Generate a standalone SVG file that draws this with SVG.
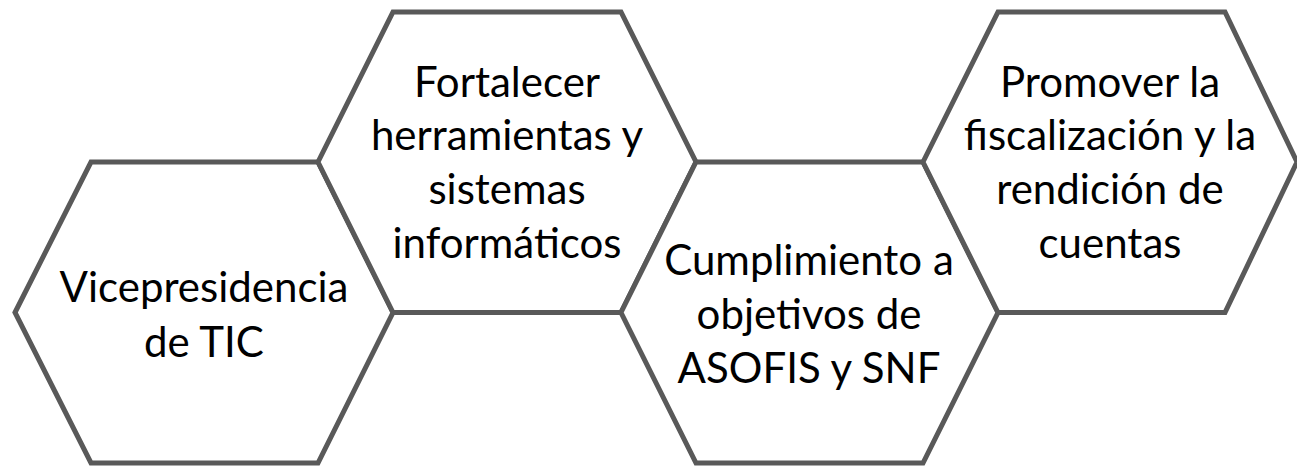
<svg xmlns="http://www.w3.org/2000/svg" width="1297" height="466" viewBox="0 0 1297 466">
  <style>
    .hex { fill: #ffffff; stroke: #595959; stroke-width: 5; stroke-linejoin: miter; }
    .lbl { font-family: Lato, "Open Sans", "Liberation Sans", sans-serif; font-size: 42px; fill: #000000; text-anchor: middle; }
  </style>
  <rect width="1297" height="466" fill="#ffffff"/>
  <g id="connectors"></g>
  <g id="node-vicepresidencia">
    <polygon class="hex" points="15,312.5 91,162 318,162 393,312.5 318,463 91,463"/>
    <text class="lbl" x="204" y="302">Vicepresidencia</text>
    <text class="lbl" x="204" y="357">de TIC</text>
  </g>
  <g id="node-fortalecer">
    <polygon class="hex" points="318,162 393,12 621,12 696,162 621,312.5 393,312.5"/>
    <text class="lbl" x="507" y="97">Fortalecer</text>
    <text class="lbl" x="507" y="150">herramientas y</text>
    <text class="lbl" x="507" y="204">sistemas</text>
    <text class="lbl" x="507" y="258">informáticos</text>
  </g>
  <g id="node-cumplimiento">
    <polygon class="hex" points="621,312.5 696,162 923,162 998,312.5 923,463 696,463"/>
    <text class="lbl" x="809" y="275">Cumplimiento a</text>
    <text class="lbl" x="809" y="329">objetivos de</text>
    <text class="lbl" x="809" y="383">ASOFIS y SNF</text>
  </g>
  <g id="node-promover">
    <polygon class="hex" points="923,162 998,12 1225,12 1297,162 1225,312.5 998,312.5"/>
    <text class="lbl" x="1110" y="97">Promover la</text>
    <text class="lbl" x="1110" y="150">fiscalización y la</text>
    <text class="lbl" x="1110" y="204">rendición de</text>
    <text class="lbl" x="1110" y="258">cuentas</text>
  </g>
</svg>
